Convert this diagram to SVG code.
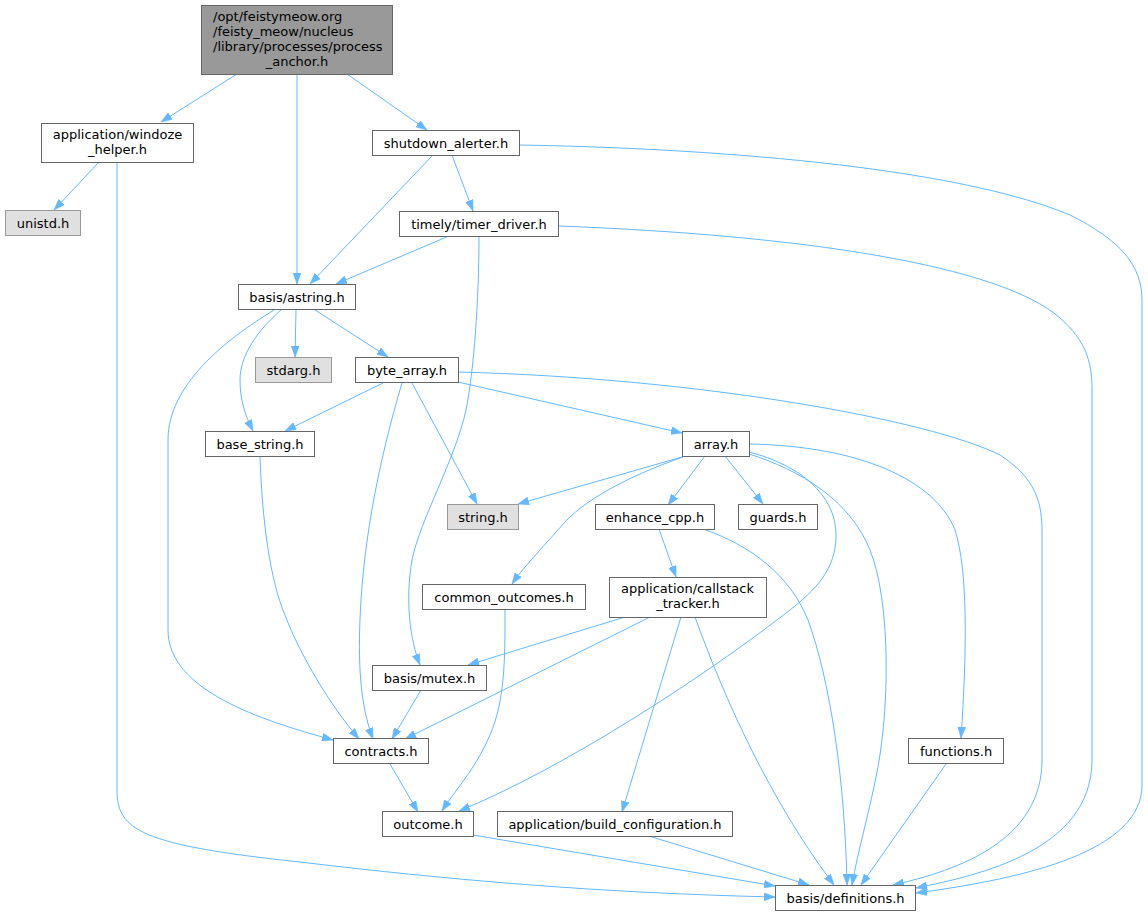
<svg xmlns="http://www.w3.org/2000/svg" width="1148" height="916" viewBox="0 0 1148 916">
<defs>
<marker id="ah" viewBox="0 0 11 8" refX="11" refY="4" markerWidth="11" markerHeight="8" markerUnits="userSpaceOnUse" orient="auto">
<path d="M0,0 L11,4 L0,8 z" fill="#63b8ff" stroke="#63b8ff" stroke-width="0.5"/>
</marker>
</defs>
<style>
rect.n{fill:#ffffff;stroke:#666666;stroke-width:1}
rect.g{fill:#e0e0e0;stroke:#999999;stroke-width:1}
rect.r{fill:#999999;stroke:#666666;stroke-width:1}
text{font-family:"DejaVu Sans","Liberation Sans",sans-serif;font-size:13px;fill:#000000}
text.c{text-anchor:middle}
#edges path{fill:none;stroke:#63b8ff;stroke-width:1;marker-end:url(#ah)}
</style>
<rect width="1148" height="916" fill="#ffffff"/>
<g id="edges">
<path d="M237,74 L161,122"/>
<path d="M297,74 L297,284"/>
<path d="M347,74 L427,130"/>
<path d="M99,162 L54,210"/>
<path d="M117,162 L117,790 C117,830 140,845 300,862 C450,880 600,893 775,897"/>
<path d="M433,155 L310,284"/>
<path d="M452,155 L473,211"/>
<path d="M519,145 C700,148 950,165 1070,215 C1120,240 1142,265 1142,300 L1142,785 C1142,850 1030,878 916,893"/>
<path d="M449,236 L336,284"/>
<path d="M479,236 C479,300 474,370 466,410 C455,460 420,520 412,560 C405,600 410,640 420,665"/>
<path d="M558,226 C800,235 1000,265 1060,318 C1085,340 1092,360 1092,390 L1092,760 C1092,850 980,875 916,888"/>
<path d="M296,310 L295,357"/>
<path d="M315,310 L388,357"/>
<path d="M281,310 C258,330 240,355 240,380 C240,400 245,415 253,431"/>
<path d="M274,310 C225,340 168,385 168,440 L168,630 C168,690 260,720 333,740"/>
<path d="M383,383 L285,431"/>
<path d="M402,383 C385,440 366,520 361,600 C358,650 358,700 373,739"/>
<path d="M412,383 L477,504"/>
<path d="M458,382 L682,433"/>
<path d="M458,372 C700,378 930,420 1000,455 C1030,475 1042,495 1042,530 L1042,760 C1042,840 960,870 893,885"/>
<path d="M682,457 L518,504"/>
<path d="M683,457 C640,472 590,495 565,522 C545,545 525,565 512,584"/>
<path d="M705,456 L668,505"/>
<path d="M725,456 L763,504"/>
<path d="M749,452 C800,465 836,495 836,535 C836,570 815,590 790,610 C700,680 560,770 459,811"/>
<path d="M749,454 C800,470 850,500 870,550 C890,600 890,700 878,767 C870,810 858,850 852,885"/>
<path d="M749,444 C860,446 935,480 955,530 C968,570 967,650 961,738"/>
<path d="M659,529 L676,577"/>
<path d="M703,529 C750,545 790,575 808,620 C830,680 845,780 847,885"/>
<path d="M625,617 L468,665"/>
<path d="M650,617 L405,739"/>
<path d="M681,617 L622,812"/>
<path d="M695,617 C725,700 770,800 834,885"/>
<path d="M505,610 C505,660 505,700 490,735 C475,770 455,790 442,811"/>
<path d="M421,690 L392,739"/>
<path d="M260,456 C262,520 270,580 285,615 C300,655 330,705 359,739"/>
<path d="M390,764 L418,812"/>
<path d="M473,835 L775,886"/>
<path d="M652,837 L809,885"/>
<path d="M946,764 L861,885"/>
</g>
<g id="node_root">
<rect class="r" x="201.5" y="5.5" width="191" height="69"/>
<text x="213" y="20.5">/opt/feistymeow.org</text>
<text x="213" y="35.5">/feisty_meow/nucleus</text>
<text x="213" y="50.5">/library/processes/process</text>
<text class="c" x="297" y="65.5">_anchor.h</text>
</g>
<g id="node_windoze">
<rect class="n" x="41.5" y="123.5" width="152" height="39"/>
<text class="c" x="117.5" y="139">application/windoze</text>
<text class="c" x="117.5" y="153.5">_helper.h</text>
</g>
<g id="node_unistd">
<rect class="g" x="5.5" y="210.5" width="75" height="25"/>
<text class="c" x="43" y="227.5">unistd.h</text>
</g>
<g id="node_shutdown">
<rect class="n" x="372.5" y="130.5" width="147" height="25"/>
<text class="c" x="446" y="147.5">shutdown_alerter.h</text>
</g>
<g id="node_timer">
<rect class="n" x="399.5" y="211.5" width="159" height="25"/>
<text class="c" x="479" y="228.5">timely/timer_driver.h</text>
</g>
<g id="node_astring">
<rect class="n" x="238.5" y="284.5" width="117" height="25"/>
<text class="c" x="297" y="301.5">basis/astring.h</text>
</g>
<g id="node_stdarg">
<rect class="g" x="255.5" y="357.5" width="76" height="25"/>
<text class="c" x="293.5" y="374.5">stdarg.h</text>
</g>
<g id="node_byte_array">
<rect class="n" x="355.5" y="357.5" width="103" height="25"/>
<text class="c" x="407" y="374.5">byte_array.h</text>
</g>
<g id="node_base_string">
<rect class="n" x="205.5" y="431.5" width="109" height="25"/>
<text class="c" x="260" y="448.5">base_string.h</text>
</g>
<g id="node_string">
<rect class="g" x="447.5" y="504.5" width="71" height="25"/>
<text class="c" x="483" y="521.5">string.h</text>
</g>
<g id="node_array">
<rect class="n" x="682.5" y="431.5" width="67" height="25"/>
<text class="c" x="716" y="448.5">array.h</text>
</g>
<g id="node_enhance_cpp">
<rect class="n" x="595.5" y="504.5" width="119" height="25"/>
<text class="c" x="655" y="521.5">enhance_cpp.h</text>
</g>
<g id="node_guards">
<rect class="n" x="738.5" y="504.5" width="79" height="25"/>
<text class="c" x="778" y="521.5">guards.h</text>
</g>
<g id="node_common_outcomes">
<rect class="n" x="422.5" y="584.5" width="163" height="25"/>
<text class="c" x="504" y="601.5">common_outcomes.h</text>
</g>
<g id="node_callstack">
<rect class="n" x="609.5" y="577.5" width="157" height="40"/>
<text x="621" y="593">application/callstack</text>
<text class="c" x="688" y="607.5">_tracker.h</text>
</g>
<g id="node_mutex">
<rect class="n" x="372.5" y="665.5" width="114" height="25"/>
<text class="c" x="429.5" y="682.5">basis/mutex.h</text>
</g>
<g id="node_functions">
<rect class="n" x="908.5" y="738.5" width="95" height="25"/>
<text class="c" x="956" y="755.5">functions.h</text>
</g>
<g id="node_contracts">
<rect class="n" x="333.5" y="738.5" width="95" height="25"/>
<text class="c" x="381" y="755.5">contracts.h</text>
</g>
<g id="node_outcome">
<rect class="n" x="382.5" y="811.5" width="91" height="25"/>
<text class="c" x="428" y="828.5">outcome.h</text>
</g>
<g id="node_build_configuration">
<rect class="n" x="497.5" y="811.5" width="235" height="25"/>
<text class="c" x="615" y="828.5">application/build_configuration.h</text>
</g>
<g id="node_definitions">
<rect class="n" x="775.5" y="885.5" width="140" height="25"/>
<text class="c" x="845.5" y="902.5">basis/definitions.h</text>
</g>
</svg>
